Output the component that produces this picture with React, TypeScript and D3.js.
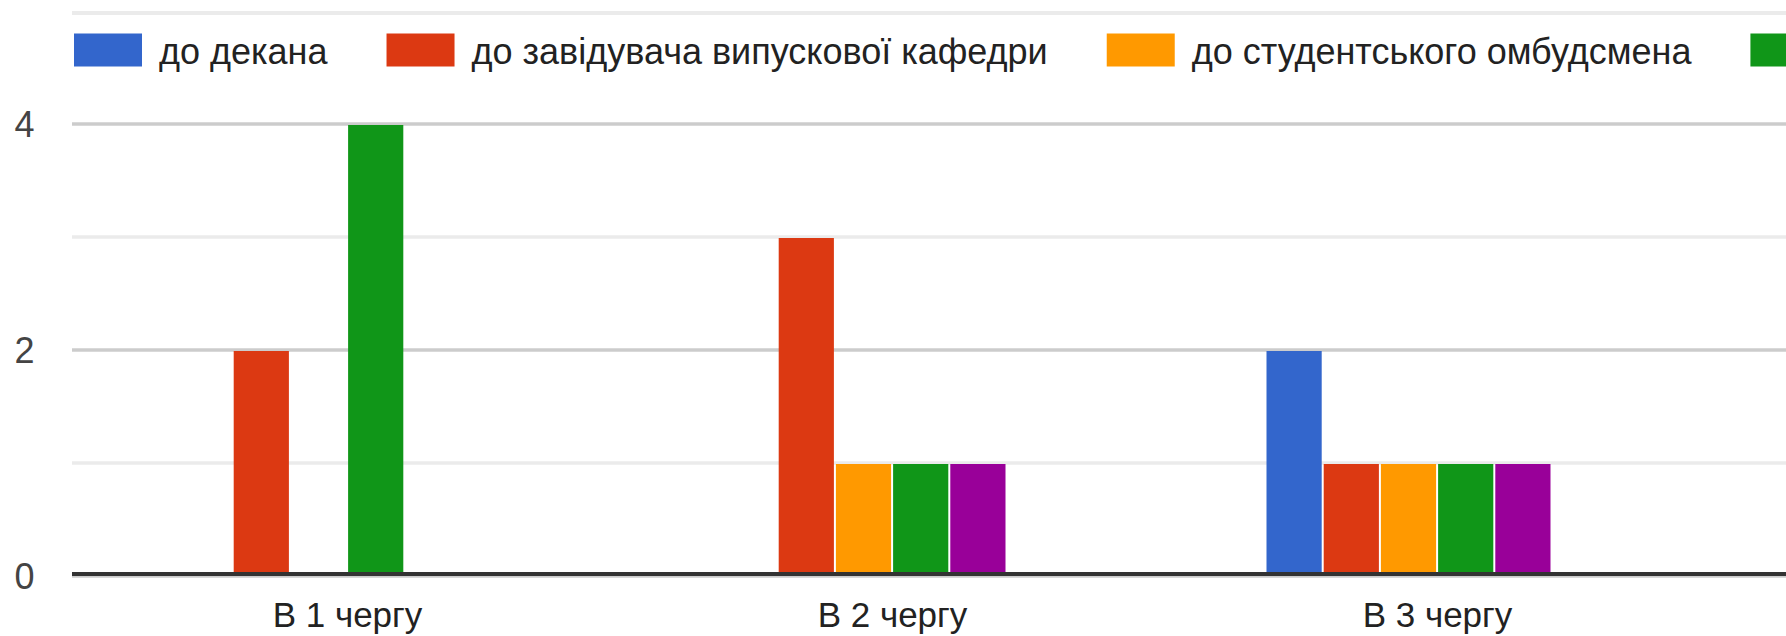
import React from "react";
import * as d3 from "d3";

const categories = ["В 1 чергу", "В 2 чергу", "В 3 чергу"];
const seriesNames = [
  "до декана",
  "до завідувача випускової кафедри",
  "до студентського омбудсмена",
  "до проректора",
  "інше",
];
const seriesColors = ["#3366cc", "#dc3912", "#ff9900", "#109618", "#990099"];
const valuesDekan = [0, 0, 2];
const valuesZaviduvach = [2, 3, 1];
const valuesOmbudsman = [0, 1, 1];
const valuesProrector = [4, 1, 1];
const valuesInshe = [0, 1, 1];
const seriesValues = [valuesDekan, valuesZaviduvach, valuesOmbudsman, valuesProrector, valuesInshe];
const yTicks = [0, 1, 2, 3, 4];
const yLabelTicks = [0, 2, 4];

const W = 1786;
const H = 636;
const FONT = "'Liberation Sans', Arial, sans-serif";

function measure(text: string, size: number) {
  const c = document.createElement("canvas").getContext("2d")!;
  c.font = `${size}px 'Liberation Sans'`;
  return c.measureText(text).width;
}

export default function App() {
  const plotLeft = 72;
  const bandW = 545;
  const x0 = d3
    .scaleBand<string>()
    .domain(categories)
    .range([plotLeft, plotLeft + bandW * categories.length]);
  const groupOffset = 104.5;
  const x1 = d3
    .scaleBand<number>()
    .domain(d3.range(seriesNames.length))
    .range([0, 284])
    .paddingInner(0.035)
    .paddingOuter(0);
  const y = d3.scaleLinear().domain([0, 4]).range([576, 124]);
  const barBottom = y(0) - 4;

  const legendSize = 36;
  const legendItems: { x: number; tx: number; name: string; color: string }[] = [];
  let lx = 74;
  seriesNames.forEach((name, i) => {
    legendItems.push({ x: lx, tx: lx + 85, name, color: seriesColors[i] });
    lx = lx + 85 + measure(name, legendSize) + 59;
  });

  return (
    <svg
      width={W}
      height={H}
      style={{ position: "absolute", left: 0, top: 0, background: "#fff" }}
      fontFamily={FONT}
    >
      <rect x={0} y={0} width={W} height={H} fill="#fff" />
      <line x1={plotLeft} x2={W} y1={13} y2={13} stroke="#ebebeb" strokeWidth={4} />
      {legendItems
        .filter((d) => d.x < W)
        .map((d, i) => (
          <g key={i}>
            <rect x={d.x} y={33.5} width={68} height={33} fill={d.color} />
            {d.tx < W ? (
              <text x={d.tx} y={64.3} fontSize={legendSize} fill="#222">
                {d.name}
              </text>
            ) : null}
          </g>
        ))}
      {yTicks.map((t) => (
        <line
          key={t}
          x1={plotLeft}
          x2={W}
          y1={y(t)}
          y2={y(t)}
          stroke={t % 2 === 0 ? "#cccccc" : "#ebebeb"}
          strokeWidth={3.5}
        />
      ))}
      {yLabelTicks.map((t) => (
        <text key={t} x={34.5} y={y(t) + 12.5} textAnchor="end" fontSize={36} fill="#444">
          {t}
        </text>
      ))}
      {categories.map((c, ci) =>
        seriesValues.map((vals, si) =>
          vals[ci] > 0 ? (
            <rect
              key={`${ci}-${si}`}
              x={x0(c)! + groupOffset + x1(si)!}
              y={y(vals[ci]) + 1}
              width={x1.bandwidth()}
              height={barBottom - y(vals[ci]) - 1}
              fill={seriesColors[si]}
            />
          ) : null
        )
      )}
      <line x1={plotLeft} x2={W} y1={y(0) - 2} y2={y(0) - 2} stroke="#333" strokeWidth={4} />
      {categories.map((c) => (
        <text
          key={c}
          x={x0(c)! + x0.bandwidth() / 2 + 3}
          y={626.5}
          textAnchor="middle"
          fontSize={35}
          fill="#222"
        >
          {c}
        </text>
      ))}
    </svg>
  );
}
